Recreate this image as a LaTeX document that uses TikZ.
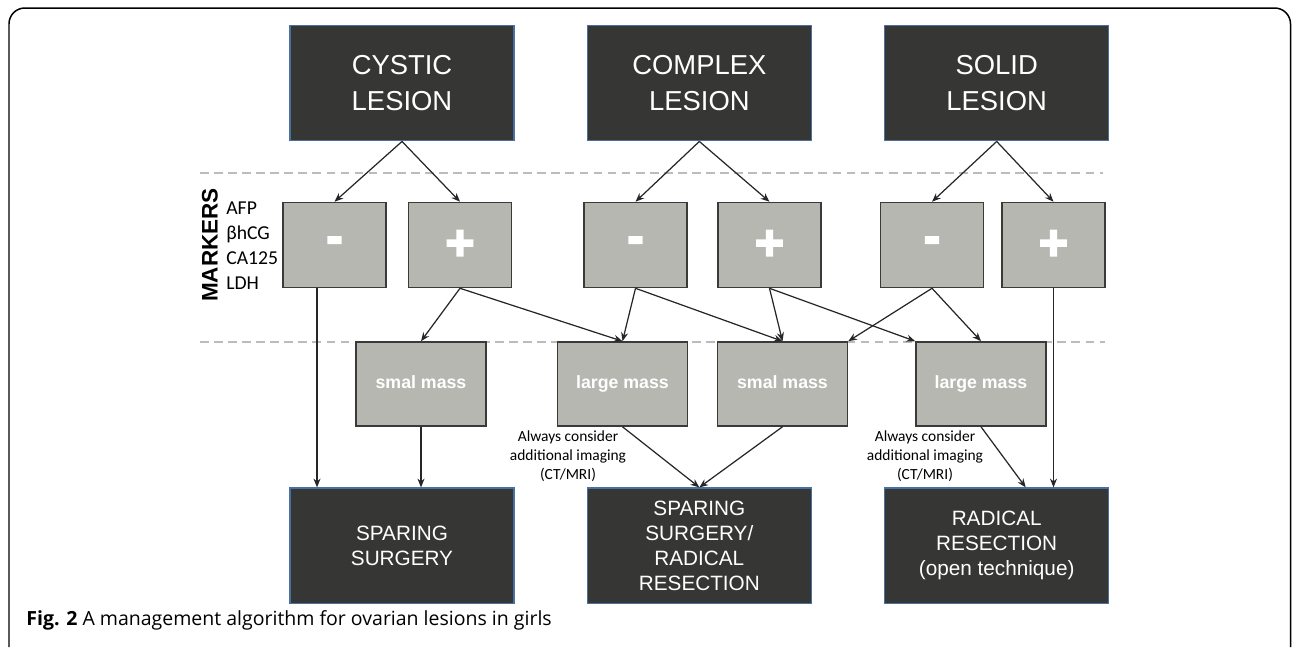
\documentclass[tikz,border=0pt]{standalone}
\usepackage{fontspec}
\setmainfont{Liberation Sans}
\newfontfamily\calibrifont{Carlito}
\newfontfamily\captionfont{Open Sans}
\newfontfamily\signfont[FakeBold=4]{Liberation Sans Bold}
\definecolor{boxdark}{RGB}{54,54,52}
\definecolor{boxedge}{RGB}{72,112,160}
\definecolor{boxgrey}{RGB}{182,183,176}
\definecolor{greyedge}{RGB}{58,58,56}
\definecolor{sepgrey}{RGB}{188,188,188}
\usetikzlibrary{arrows.meta,positioning}

\begin{document}
\begin{tikzpicture}[x=0.02cm,y=-0.02cm,
        node distance=1.44cm,
        lesion/.style={draw=boxedge,line width=0.8pt,fill=boxdark,text=white,
                       minimum width=4.48cm,minimum height=2.31cm,inner sep=0pt,
                       align=center,font=\fontsize{15.6}{20.4}\selectfont},
        outcome/.style={lesion,font=\fontsize{11.8}{14.2}\selectfont},
        marker/.style={draw=greyedge,line width=0.9pt,fill=boxgrey,text=white,
                       minimum width=2.06cm,minimum height=1.70cm,inner sep=0pt,
                       font=\signfont\fontsize{28}{28}\selectfont},
        mass/.style={marker,minimum width=2.60cm,minimum height=1.68cm,
                     text height=0.75em,text depth=0.22em,
                     font=\fontsize{10.1}{12}\selectfont\bfseries},
        note/.style={align=center,font=\calibrifont\fontsize{8.8}{10.8}\selectfont},
        sep/.style={sepgrey,line width=0.8pt,dash pattern=on 5pt off 3pt},
        arr/.style={-{Stealth[length=5pt,width=4pt]},line width=0.7pt,black!85}]
        \useasboundingbox (0,0) rectangle (1292,647);
        % frame round the figure, open at the foot
        \draw[line width=0.85pt,rounded corners=9pt] (9,647) -- (9,8) -- (1290.5,8) -- (1290.5,647);
        % level separators
        \draw[sep] (200,173) -- (1103,173);
        \draw[sep] (200,342) -- (1105,342);
        % lesion types
        \node[lesion] (cystic) at (402,83) {CYSTIC\\LESION};
        \node[lesion,right=of cystic]  (complex) {COMPLEX\\LESION};
        \node[lesion,right=of complex] (solid)   {SOLID\\LESION};
        % tumour markers
        \node[marker] (cysminus) at (334.5,245)  {-};
        \node[marker] (cysplus)  at (460,245)    {+};
        \node[marker] (cmpminus) at (635.5,245)  {-};
        \node[marker] (cmpplus)  at (769.5,245)  {+};
        \node[marker] (solminus) at (932,245)    {-};
        \node[marker] (solplus)  at (1053.5,245) {+};
        \node[rotate=90,font=\fontsize{12.8}{14}\selectfont\bfseries] (markers) at (210,245) {MARKERS};
        \node[anchor=west,align=left,inner sep=0pt,font=\calibrifont\fontsize{11.2}{14.2}\selectfont] (assays) at (226,246)
          {AFP\\βhCG\\CA125\\LDH};
        % mass size
        \node[mass] (smal1)  at (421,384)   {smal mass};
        \node[mass] (large1) at (622.5,384) {large mass};
        \node[mass] (smal2)  at (782.5,384) {smal mass};
        \node[mass] (large2) at (981,384)   {large mass};
        \node[note] (img1) at (568,456) {Always consider\\additional imaging\\(CT/MRI)};
        \node[note] (img2) at (925,456) {Always consider\\additional imaging\\(CT/MRI)};
        % treatment
        \node[outcome,below=6.92cm of cystic]  (spare)   {SPARING\\SURGERY};
        \node[outcome,below=6.92cm of complex] (mixed)   {SPARING\\SURGERY/\\RADICAL\\RESECTION};
        \node[outcome,below=6.92cm of solid]   (radical) {RADICAL\\RESECTION\\(open technique)};
        \node[anchor=base west,inner sep=0pt,font=\captionfont\fontsize{11.1}{13}\selectfont] (caption) at (26,625)
          {\textbf{Fig. 2} A management algorithm for ovarian lesions in girls};
        % connectors
        \draw[arr] (cystic.south) -- (cysminus.north);
        \draw[arr] (cystic.south) -- (cysplus.north);
        \draw[arr] (complex.south) -- (cmpminus.north);
        \draw[arr] (complex.south) -- (cmpplus.north);
        \draw[arr] (solid.south) -- (solminus.north);
        \draw[arr] (solid.south) -- (solplus.north);
        \draw[arr] ([xshift=-0.35cm]cysminus.south) -- ([xshift=-0.35cm]cysminus.south |- spare.north);
        \draw[arr] (cysplus.south) -- (smal1.north);
        \draw[arr] (cysplus.south) -- (large1.north);
        \draw[arr] (cmpminus.south) -- (large1.north);
        \draw[arr] (cmpminus.south) -- (smal2.north);
        \draw[arr] (cmpplus.south) -- (smal2.north);
        \draw[arr] (cmpplus.south) -- (large2.north west);
        \draw[arr] (solminus.south) -- (smal2.north east);
        \draw[arr] (solminus.south) -- (large2.north);
        \draw[arr] (solplus.south) -- (solplus.south |- radical.north);
        \draw[arr] (smal1.south) -- (smal1.south |- spare.north);
        \draw[arr] (large1.south) -- (mixed.north);
        \draw[arr] (smal2.south) -- (mixed.north);
        \draw[arr] (large2.south) -- ([xshift=0.58cm]radical.north);
      \end{tikzpicture}
\end{document}
